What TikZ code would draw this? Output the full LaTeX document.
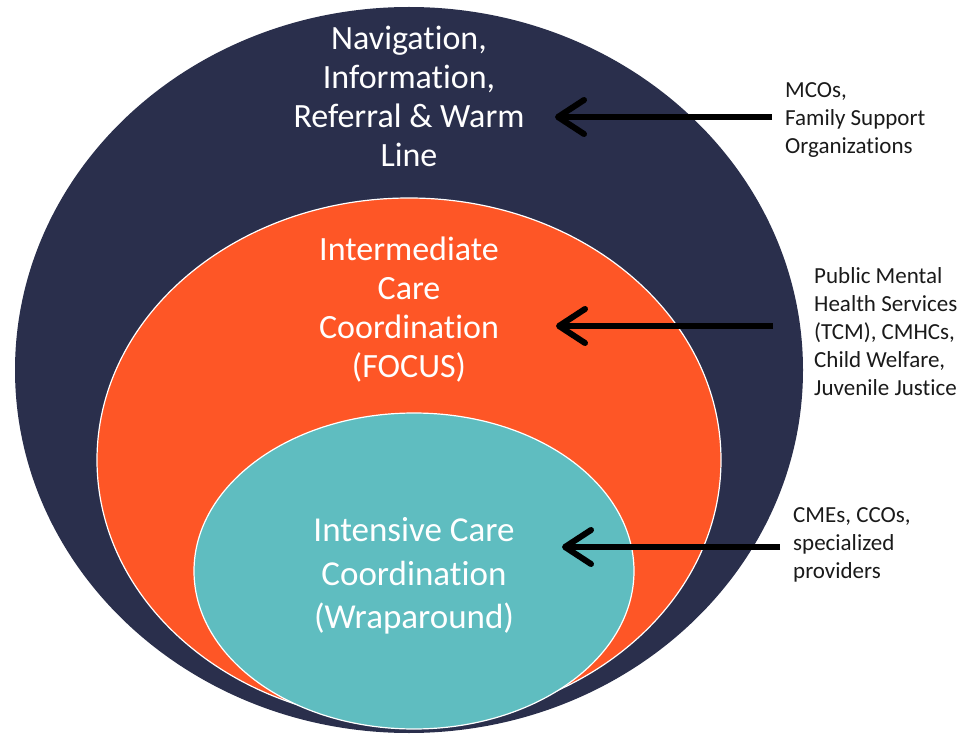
\documentclass[tikz,border=0pt]{standalone}
\usepackage{fontspec}
\setmainfont{Carlito}[Ligatures=NoCommon]
\usetikzlibrary{arrows.meta}
\definecolor{navy}{HTML}{2A2F4C}
\definecolor{orng}{HTML}{FE5626}
\definecolor{tealc}{HTML}{5FBDC0}
\definecolor{labelc}{HTML}{1A1A1A}
\begin{document}
\begin{tikzpicture}[x=1pt,y=-1pt,
  layer/.style={draw=white,line width=1.2pt},
  intext/.style={text=white,align=center,inner sep=0pt,font=\fontsize{34}{39}\selectfont},
  side/.style={text=labelc,align=left,anchor=west,inner sep=0pt,font=\fontsize{23}{28}\selectfont},
  pointer/.style={line width=6pt,-{Straight Barb[length=26pt,width=34pt,round]}}]
\useasboundingbox (0,0) rectangle (964,735);
\fill[navy] (409,370) ellipse [x radius=394, y radius=363];
\filldraw[fill=orng,layer] (409,460) ellipse [x radius=312, y radius=262];
\filldraw[fill=tealc,layer] (414,571) ellipse [x radius=220, y radius=158];
\node[intext] (nav) at (409,96) {Navigation,\\Information,\\Referral \& Warm\\Line};
\node[intext] (inter) at (409,310) {Intermediate\\Care\\Coordination\\(FOCUS)};
\node[intext,font=\fontsize{35}{43.5}\selectfont] (wrap) at (414,576) {Intensive Care\\Coordination\\(Wraparound)};
\node[side] (mco) at (785,120) {MCOs,\\Family Support\\Organizations};
\node[side] (pub) at (814,332) {Public Mental\\Health Services\\(TCM), CMHCs,\\Child Welfare,\\Juvenile Justice};
\node[side] (cme) at (793,545) {CMEs, CCOs,\\specialized\\providers};
\coordinate (s1) at (772,117);
\coordinate (t1) at (555,117);
\coordinate (s2) at (773,326);
\coordinate (t2) at (556,326);
\coordinate (s3) at (780,547);
\coordinate (t3) at (562,547);
\draw[pointer] (s1) -- (t1);
\draw[pointer] (s2) -- (t2);
\draw[pointer] (s3) -- (t3);
\end{tikzpicture}
\end{document}
